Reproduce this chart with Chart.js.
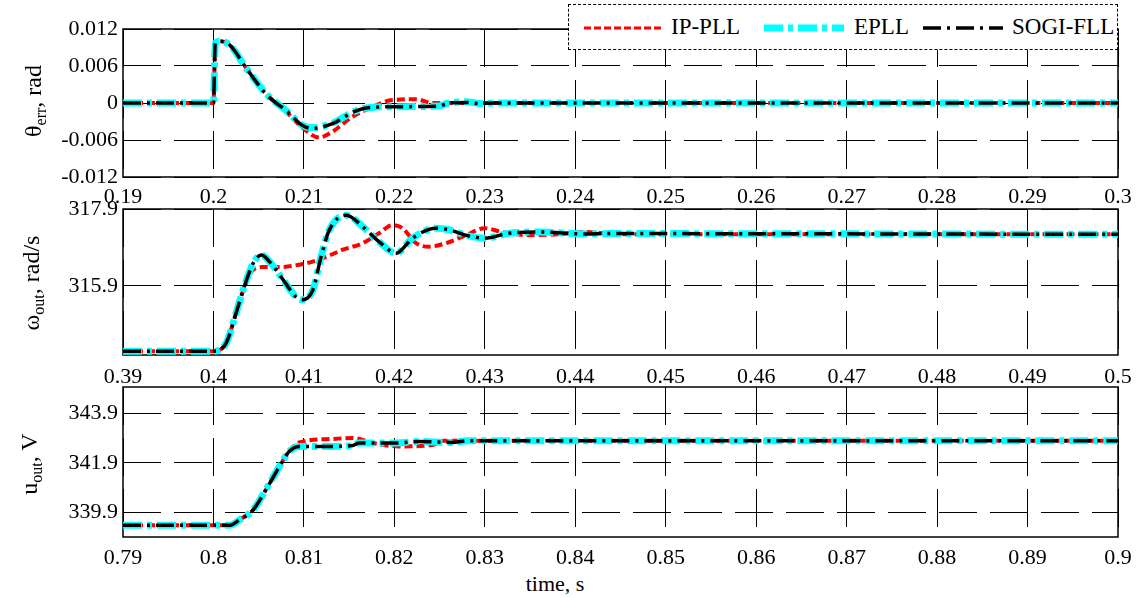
<!DOCTYPE html>
<html>
<head>
<meta charset="utf-8">
<title>PLL step responses</title>
<script src="https://cdn.jsdelivr.net/npm/chart.js"></script>
<style>
  body { margin: 0; background: #fff; font-family: "Liberation Serif", "Times New Roman", serif; }
  #wrap { position: relative; width: 1141px; height: 598px; overflow: hidden; }
  #wrap canvas { position: absolute; left: 0; }
  .ytitle { position: absolute; transform: translate(-50%, -50%) rotate(-90deg); white-space: nowrap; font-size: 24px; color: #000; }
  .ytitle sub { font-size: 16px; vertical-align: -5px; }
  #xtitle { position: absolute; left: 555px; top: 584px; transform: translate(-50%, -50%); font-size: 22px; }
  #legend { position: absolute; left: 568px; top: 4px; width: 548px; height: 44px; background: #fff;
            border: 1px dashed #000; z-index: 5; }
  #legend svg { position: absolute; top: 19px; }
  #legend span { position: absolute; top: 9px; font-size: 23px; line-height: 26px; }
</style>
</head>
<body>
<div id="wrap">
  <canvas id="c1" width="1141" height="198" style="top:9px"></canvas>
  <canvas id="c2" width="1141" height="196" style="top:189px"></canvas>
  <canvas id="c3" width="1141" height="200" style="top:367px"></canvas>

  <div class="ytitle" style="left:35px; top:101px">&theta;<sub>err</sub>, rad</div>
  <div class="ytitle" style="left:33px; top:283px">&omega;<sub>out</sub>, rad/s</div>
  <div class="ytitle" style="left:31px; top:464px">u<sub>out</sub>, V</div>
  <div id="xtitle">time, s</div>

  <div id="legend">
    <svg style="left:15px" width="80" height="8"><line x1="0" y1="4" x2="80" y2="4" stroke="#ff0000" stroke-width="3" stroke-dasharray="7 3"/></svg>
    <span style="left:102px">IP-PLL</span>
    <svg style="left:195px" width="80" height="8"><line x1="0" y1="4" x2="80" y2="4" stroke="#00ffff" stroke-width="7" stroke-dasharray="19 5 5 5"/></svg>
    <span style="left:285px">EPLL</span>
    <svg style="left:354px" width="80" height="8"><line x1="0" y1="4" x2="80" y2="4" stroke="#000" stroke-width="3.5" stroke-dasharray="18 6 3 6"/></svg>
    <span style="left:443px">SOGI-FLL</span>
  </div>
</div>

<script>
// ---- phase error (top) ----
const xTicks1 = [0.19, 0.2, 0.21, 0.22, 0.23, 0.24, 0.25, 0.26, 0.27, 0.28, 0.29, 0.3];
const xLabels1 = ['0.19', '0.2', '0.21', '0.22', '0.23', '0.24', '0.25', '0.26', '0.27', '0.28', '0.29', '0.3'];
const yTicks1 = [-0.012, -0.006, 0, 0.006, 0.012];
const yLabels1 = ['-0.012', '-0.006', '0', '0.006', '0.012'];

const tIp1 = [0.19, 0.2, 0.2002, 0.2008, 0.2018, 0.2037, 0.2059, 0.2081, 0.2100, 0.2117, 0.2131, 0.2154, 0.2175, 0.2198, 0.2224, 0.2242, 0.3];
const ipErr = [0, 0, 0.0097, 0.0100, 0.0094, 0.0055, 0.0014, -0.0015, -0.0042, -0.0056, -0.0047, -0.0022, -0.0007, 0.0005, 0.0006, 0.0, 0];
const tEp1 = [0.19, 0.2, 0.2002, 0.2008, 0.2018, 0.2037, 0.2059, 0.2081, 0.2099, 0.2109, 0.2131, 0.2154, 0.2169, 0.2198, 0.2249, 0.226, 0.228, 0.2295, 0.231, 0.3];
const epErr = [0, 0, 0.0097, 0.0100, 0.0094, 0.0055, 0.0014, -0.0013, -0.0037, -0.0040, -0.0033, -0.0015, -0.0008, -0.0006, -0.0005, 0, 0.0002, -0.0001, 0, 0];
const sogiErr = [0, 0, 0.0097, 0.0100, 0.0094, 0.0055, 0.0013, -0.0013, -0.0037, -0.0041, -0.0034, -0.0015, -0.0008, -0.0006, -0.0005, 0, 0.0001, -0.0001, 0, 0];

// ---- frequency (middle) ----
const xTicks2 = [0.39, 0.4, 0.41, 0.42, 0.43, 0.44, 0.45, 0.46, 0.47, 0.48, 0.49, 0.5];
const xLabels2 = ['0.39', '0.4', '0.41', '0.42', '0.43', '0.44', '0.45', '0.46', '0.47', '0.48', '0.49', '0.5'];
const yTicks2 = [315.9, 317.9];
const yLabels2 = ['315.9', '317.9'];

const tIp2 = [0.39, 0.4, 0.4014, 0.4025, 0.4034, 0.4044, 0.4055, 0.4073, 0.4099, 0.4121, 0.4143, 0.4165, 0.4183, 0.4198, 0.4209, 0.4224, 0.4238, 0.4257, 0.4279, 0.4300, 0.4319, 0.4349, 0.4380, 0.4411, 0.4450, 0.5];
const ipW = [314.2, 314.2, 314.41, 315.19, 315.85, 316.32, 316.39, 316.39, 316.47, 316.62, 316.84, 317.01, 317.27, 317.48, 317.40, 317.01, 316.92, 317.01, 317.22, 317.40, 317.30, 317.22, 317.24, 317.30, 317.24, 317.24];
const tEp2 = [0.39, 0.4, 0.4014, 0.4025, 0.4034, 0.4044, 0.4053, 0.4062, 0.4077, 0.4091, 0.4099, 0.4110, 0.4119, 0.4128, 0.4147, 0.4165, 0.4183, 0.4202, 0.4220, 0.4246, 0.4260, 0.4282, 0.4300, 0.4327, 0.4363, 0.4411, 0.4437, 0.5];
const epW = [314.2, 314.2, 314.41, 315.19, 315.88, 316.49, 316.70, 316.53, 316.06, 315.62, 315.54, 315.80, 316.66, 317.35, 317.74, 317.44, 317.05, 316.75, 317.14, 317.40, 317.36, 317.20, 317.14, 317.27, 317.30, 317.25, 317.26, 317.24];
const sogiW = [314.2, 314.2, 314.41, 315.19, 315.88, 316.49, 316.70, 316.53, 316.06, 315.62, 315.54, 315.80, 316.66, 317.35, 317.74, 317.44, 317.05, 316.75, 317.14, 317.40, 317.36, 317.20, 317.14, 317.27, 317.30, 317.25, 317.26, 317.24];

// ---- amplitude (bottom) ----
const xTicks3 = [0.79, 0.8, 0.81, 0.82, 0.83, 0.84, 0.85, 0.86, 0.87, 0.88, 0.89, 0.9];
const xLabels3 = ['0.79', '0.8', '0.81', '0.82', '0.83', '0.84', '0.85', '0.86', '0.87', '0.88', '0.89', '0.9'];
const yTicks3 = [339.9, 341.9, 343.9];
const yLabels3 = ['339.9', '341.9', '343.9'];

const tIp3 = [0.79, 0.8018, 0.8029, 0.8044, 0.8058, 0.8073, 0.8084, 0.8095, 0.8131, 0.8154, 0.8176, 0.8205, 0.8242, 0.8255, 0.9];
const ipU = [339.37, 339.37, 339.60, 340.0, 340.81, 341.75, 342.40, 342.72, 342.86, 342.90, 342.70, 342.56, 342.62, 342.79, 342.79];
const tEp3 = [0.79, 0.8018, 0.8029, 0.8044, 0.8058, 0.8073, 0.8084, 0.8095, 0.8131, 0.8154, 0.8161, 0.8202, 0.8227, 0.8264, 0.8282, 0.9];
const epU = [339.37, 339.37, 339.60, 340.0, 340.81, 341.75, 342.36, 342.56, 342.56, 342.60, 342.70, 342.70, 342.76, 342.72, 342.79, 342.79];
const sogiU = [339.37, 339.37, 339.60, 340.0, 340.81, 341.75, 342.36, 342.56, 342.56, 342.60, 342.70, 342.70, 342.76, 342.72, 342.79, 342.79];

const FONT = { family: '"Liberation Serif", "Times New Roman", serif', size: 22 };

function pts(t, v) {
    return t.map((x, i) => ({ x: x, y: v[i] }));
}

// box round the plot area, like the matlab axes
const frame = {
    id: 'frame',
    beforeDatasetsDraw(chart) {
        const a = chart.chartArea, c = chart.ctx;
        c.save();
        c.strokeStyle = '#000';
        c.lineWidth = 1.5;
        c.setLineDash([]);
        c.strokeRect(a.left, a.top, a.right - a.left, a.bottom - a.top);
        c.restore();
    }
};

function makeChart(id, sets, xt, xl, yt, yl, yMin, yMax, xPad) {
    const ctx = document.getElementById(id).getContext('2d');
    return new Chart(ctx, {
        type: 'line',
        data: {
            datasets: [
                { label: 'SOGI-FLL', data: sets.sogi, borderColor: '#000', borderWidth: 3.5, borderDash: [18, 6, 3, 6] },
                { label: 'EPLL', data: sets.ep, borderColor: '#00ffff', borderWidth: 7, borderDash: [19, 5, 5, 5] },
                { label: 'IP-PLL', data: sets.ip, borderColor: '#ff0000', borderWidth: 4, borderDash: [8, 4] }
            ]
        },
        options: {
            responsive: false,
            animation: false,
            events: [],
            layout: { padding: { top: 20, right: 23, left: 0, bottom: 0 } },
            elements: {
                point: { radius: 0 },
                line: { fill: false, cubicInterpolationMode: 'monotone', borderCapStyle: 'butt' }
            },
            plugins: { legend: { display: false }, tooltip: { enabled: false } },
            scales: {
                x: {
                    type: 'linear', min: xt[0], max: xt[xt.length - 1],
                    afterBuildTicks: s => { s.ticks = xt.map(v => ({ value: v })); },
                    afterFit: s => { s.height = 30; },
                    grid: { color: '#000', lineWidth: 1, drawTicks: false },
                    border: { display: false, dash: [38, 13] },
                    ticks: { color: '#000', font: FONT, padding: xPad, autoSkip: false, maxRotation: 0,
                             callback: (v, i) => xl[i] }
                },
                y: {
                    type: 'linear', min: yMin, max: yMax,
                    afterBuildTicks: s => { s.ticks = yt.map(v => ({ value: v })); },
                    afterFit: s => { s.width = 123; },
                    grid: { color: '#000', lineWidth: 1, drawTicks: false },
                    border: { display: false, dash: [38, 13] },
                    ticks: { color: '#000', font: FONT, padding: 5, callback: (v, i) => yl[i] }
                }
            }
        },
        plugins: [frame]
    });
}

makeChart('c1', { ip: pts(tIp1, ipErr), ep: pts(tEp1, epErr), sogi: pts(tEp1, sogiErr) },
          xTicks1, xLabels1, yTicks1, yLabels1, -0.012, 0.012, 7);
makeChart('c2', { ip: pts(tIp2, ipW), ep: pts(tEp2, epW), sogi: pts(tEp2, sogiW) },
          xTicks2, xLabels2, yTicks2, yLabels2, 314.1, 317.9, 9);
makeChart('c3', { ip: pts(tIp3, ipU), ep: pts(tEp3, epU), sogi: pts(tEp3, sogiU) },
          xTicks3, xLabels3, yTicks3, yLabels3, 338.9, 344.96, 8);
</script>
</body>
</html>
